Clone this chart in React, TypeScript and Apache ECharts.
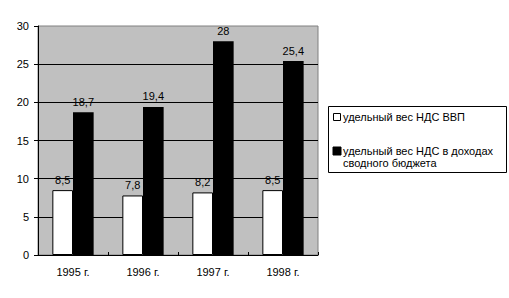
import React, { useEffect, useRef } from "react";
import * as echarts from "echarts";

const categories = ["1995 г.", "1996 г.", "1997 г.", "1998 г."];
const seriesNames = ["удельный вес НДС ВВП", "удельный вес НДС в доходах", "сводного бюджета"];
const vatGdp = [8.5, 7.8, 8.2, 8.5];
const vatBudget = [18.7, 19.4, 28, 25.4];
const yTicks = { min: 0, max: 30, interval: 5 };

const FONT = "Liberation Sans, Arial, sans-serif";

export default function App() {
  const ref = useRef<HTMLDivElement>(null);
  useEffect(() => {
    if (!ref.current) return;
    const chart = echarts.init(ref.current, null, { renderer: "svg" });
    const label = {
      show: true,
      position: "top" as const,
      distance: 5,
      color: "#000",
      fontSize: 11,
      fontFamily: FONT,
      formatter: (p: any) => String(p.value).replace(".", ","),
    };
    chart.setOption({
      animation: false,
      backgroundColor: "#fff",
      grid: {
        left: 38,
        top: 26,
        right: 191,
        bottom: 43,
        show: true,
        backgroundColor: "#C0C0C0",
        borderColor: "#808080",
        borderWidth: 1,
      },
      xAxis: {
        type: "category",
        data: categories,
        axisLine: { lineStyle: { color: "#000", width: 1 } },
        axisTick: { show: true, inside: true, length: 3, lineStyle: { color: "#000" } },
        axisLabel: { color: "#000", fontSize: 11, fontFamily: FONT, margin: 11 },
        splitLine: { show: false },
      },
      yAxis: {
        type: "value",
        min: yTicks.min,
        max: yTicks.max,
        interval: yTicks.interval,
        axisLine: { show: true, lineStyle: { color: "#000", width: 1 } },
        axisTick: { show: true, length: 4, lineStyle: { color: "#000" } },
        axisLabel: { color: "#000", fontSize: 11, fontFamily: FONT, margin: 9 },
        splitLine: { show: true, showMaxLine: false, lineStyle: { color: "#000", width: 1 } },
      },
      series: [
        {
          name: seriesNames[0],
          type: "bar",
          data: vatGdp,
          barGap: "0%",
          barCategoryGap: "41%",
          itemStyle: { color: "#fff", borderColor: "#000", borderWidth: 1 },
          label,
        },
        {
          name: seriesNames[1] + " " + seriesNames[2],
          type: "bar",
          data: vatBudget,
          barGap: "0%",
          barCategoryGap: "41%",
          itemStyle: { color: "#000" },
          label,
        },
      ],
      graphic: [
        {
          type: "rect",
          shape: { x: 328.5, y: 106.5, width: 178, height: 66 },
          style: { fill: "#fff", stroke: "#000", lineWidth: 1 },
        },
        {
          type: "rect",
          shape: { x: 333.5, y: 113.5, width: 7, height: 7 },
          style: { fill: "#fff", stroke: "#000", lineWidth: 1 },
        },
        {
          type: "text",
          x: 343,
          y: 117,
          style: { text: seriesNames[0], fill: "#000", font: `11px ${FONT}`, verticalAlign: "middle" },
        },
        {
          type: "rect",
          shape: { x: 333, y: 147, width: 8, height: 8 },
          style: { fill: "#000", stroke: "#000", lineWidth: 1 },
        },
        {
          type: "text",
          x: 343,
          y: 151,
          style: { text: seriesNames[1], fill: "#000", font: `11px ${FONT}`, verticalAlign: "middle" },
        },
        {
          type: "text",
          x: 343,
          y: 163,
          style: { text: seriesNames[2], fill: "#000", font: `11px ${FONT}`, verticalAlign: "middle" },
        },
      ],
    });
    return () => chart.dispose();
  }, []);
  return (
    <div
      ref={ref}
      style={{ position: "fixed", left: 0, top: 0, width: 509, height: 298 }}
    />
  );
}
